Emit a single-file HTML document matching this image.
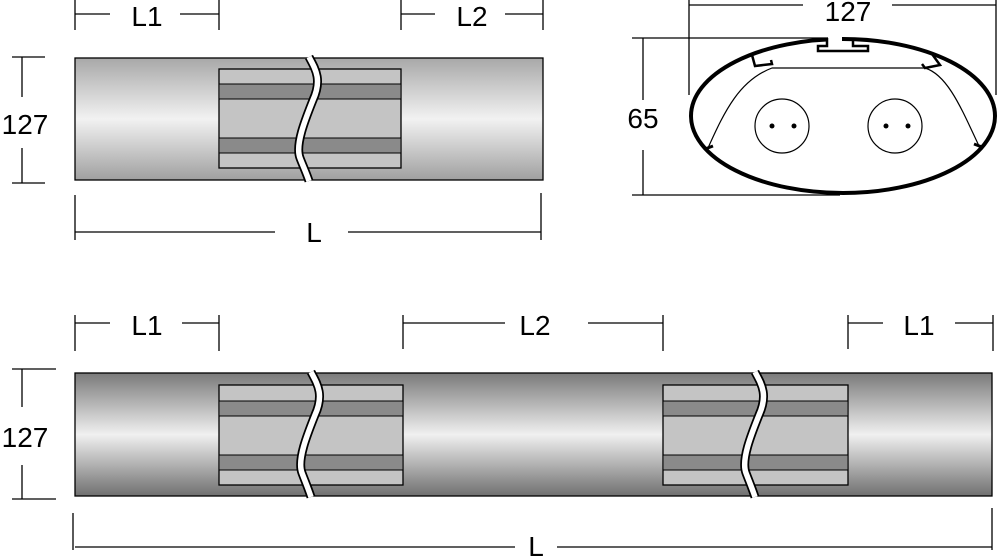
<!DOCTYPE html>
<html><head><style>
html,body{margin:0;padding:0;background:#fff;}
svg{display:block;}
text{font-family:"Liberation Sans",Arial,sans-serif;fill:#000;}
</style></head><body>
<svg width="1000" height="556" viewBox="0 0 1000 556" xmlns="http://www.w3.org/2000/svg">
<defs>
<linearGradient id="g1" x1="0" y1="0" x2="0" y2="1">
<stop offset="0" stop-color="#a8a8a8"/><stop offset="0.5" stop-color="#f2f2f2"/><stop offset="1" stop-color="#a0a0a0"/>
</linearGradient>
<linearGradient id="g2" x1="0" y1="0" x2="0" y2="1">
<stop offset="0" stop-color="#7a7a7a"/><stop offset="0.5" stop-color="#f0f0f0"/><stop offset="1" stop-color="#707070"/>
</linearGradient>
</defs>
<g stroke="#000" stroke-width="1.3" fill="none">
<line x1="75" y1="0" x2="75" y2="30"/><line x1="219" y1="0" x2="219" y2="30"/>
<line x1="75" y1="14" x2="110" y2="14"/><line x1="180" y1="14" x2="219" y2="14"/>
<line x1="401" y1="0" x2="401" y2="30"/><line x1="543" y1="0" x2="543" y2="30"/>
<line x1="401" y1="14" x2="435" y2="14"/><line x1="505" y1="14" x2="543" y2="14"/>
<line x1="12" y1="57" x2="45" y2="57"/><line x1="12" y1="183" x2="45" y2="183"/>
<line x1="22" y1="57" x2="22" y2="97"/><line x1="22" y1="148" x2="22" y2="183"/>
<line x1="75" y1="195" x2="75" y2="240"/><line x1="541" y1="193" x2="541" y2="240"/>
<line x1="75" y1="232" x2="275" y2="232"/><line x1="348" y1="232" x2="541" y2="232"/>
<line x1="75" y1="315" x2="75" y2="351"/><line x1="219" y1="315" x2="219" y2="351"/>
<line x1="75" y1="323" x2="110" y2="323"/><line x1="182" y1="323" x2="219" y2="323"/>
<line x1="403" y1="315" x2="403" y2="349"/><line x1="663" y1="315" x2="663" y2="351"/>
<line x1="403" y1="323" x2="505" y2="323"/><line x1="588" y1="323" x2="663" y2="323"/>
<line x1="848" y1="315" x2="848" y2="349"/><line x1="993" y1="315" x2="993" y2="351"/>
<line x1="848" y1="323" x2="883" y2="323"/><line x1="955" y1="323" x2="993" y2="323"/>
<line x1="12" y1="369" x2="56" y2="369"/><line x1="12" y1="499" x2="56" y2="499"/>
<line x1="22" y1="369" x2="22" y2="407"/><line x1="22" y1="465" x2="22" y2="499"/>
<line x1="73" y1="513" x2="73" y2="550"/><line x1="992" y1="508" x2="992" y2="550"/>
<line x1="75" y1="547" x2="515" y2="547"/><line x1="557" y1="547" x2="992" y2="547"/>
<line x1="689" y1="0" x2="689" y2="95"/><line x1="996" y1="0" x2="996" y2="95"/>
<line x1="689" y1="5" x2="803" y2="5"/><line x1="892" y1="5" x2="996" y2="5"/>
<line x1="632" y1="38" x2="840" y2="38"/><line x1="632" y1="195" x2="840" y2="195"/>
<line x1="643" y1="38" x2="643" y2="100"/><line x1="643" y1="150" x2="643" y2="195"/>
</g>
<g font-size="28">
<text x="147" y="26" text-anchor="middle">L1</text>
<text x="472" y="26" text-anchor="middle">L2</text>
<text x="25" y="134" text-anchor="middle">127</text>
<text x="314" y="242" text-anchor="middle">L</text>
<text x="147" y="335" text-anchor="middle">L1</text>
<text x="535" y="335" text-anchor="middle">L2</text>
<text x="919" y="335" text-anchor="middle">L1</text>
<text x="25" y="447" text-anchor="middle">127</text>
<text x="536" y="556" text-anchor="middle">L</text>
<text x="848" y="21" text-anchor="middle">127</text>
<text x="643" y="128" text-anchor="middle">65</text>
</g>
<rect x="75" y="58" width="468" height="122" fill="url(#g1)" stroke="#000" stroke-width="1.3"/>
<rect x="219" y="69" width="182" height="99" fill="#c4c4c4" stroke="#000" stroke-width="1.3"/>
<rect x="219" y="84" width="182" height="15" fill="#8a8a8a" stroke="#000" stroke-width="1"/>
<rect x="219" y="138" width="182" height="15" fill="#8a8a8a" stroke="#000" stroke-width="1"/>
<path d="M309,57 C316,70 322,80 313,100 C305,120 295,145 300,158 C303,166 306,172 309,181" stroke="#000" stroke-width="9" fill="none"/>
<path d="M309,57 C316,70 322,80 313,100 C305,120 295,145 300,158 C303,166 306,172 309,181" stroke="#fff" stroke-width="5.5" fill="none"/>
<rect x="75" y="373" width="917" height="123" fill="url(#g2)" stroke="#000" stroke-width="1.3"/>
<rect x="219" y="385" width="184" height="100" fill="#c4c4c4" stroke="#000" stroke-width="1.3"/>
<rect x="219" y="401" width="184" height="15" fill="#8a8a8a" stroke="#000" stroke-width="1"/>
<rect x="219" y="455" width="184" height="15" fill="#8a8a8a" stroke="#000" stroke-width="1"/>
<rect x="663" y="385" width="185" height="100" fill="#c4c4c4" stroke="#000" stroke-width="1.3"/>
<rect x="663" y="401" width="185" height="15" fill="#8a8a8a" stroke="#000" stroke-width="1"/>
<rect x="663" y="455" width="185" height="15" fill="#8a8a8a" stroke="#000" stroke-width="1"/>
<path d="M311,372 C318,385 324,395 315,415 C307,435 297,460 302,473 C305,481 308,488 311,497" stroke="#000" stroke-width="9" fill="none"/>
<path d="M311,372 C318,385 324,395 315,415 C307,435 297,460 302,473 C305,481 308,488 311,497" stroke="#fff" stroke-width="5.5" fill="none"/>
<path d="M755,372 C762,385 768,395 759,415 C751,435 741,460 746,473 C749,481 752,488 755,497" stroke="#000" stroke-width="9" fill="none"/>
<path d="M755,372 C762,385 768,395 759,415 C751,435 741,460 746,473 C749,481 752,488 755,497" stroke="#fff" stroke-width="5.5" fill="none"/>
<ellipse cx="843" cy="116" rx="152" ry="77" fill="#fff" stroke="#000" stroke-width="4"/>
<rect x="828" y="35" width="14" height="8" fill="#fff" stroke="none"/>
<path d="M827,38 L827,46 L818,46 L818,51 L868,51 L868,46 L853,46 L853,38" fill="none" stroke="#000" stroke-width="2.5"/>
<path d="M752,55 L755,66 L772,64 L771,60 M932,54 L940,65 L925,68 L922,64" fill="none" stroke="#000" stroke-width="2.5"/>
<path d="M708,148 C725,110 740,80 772,68 L925,68 C948,75 962,110 979,146" fill="none" stroke="#000" stroke-width="1.2"/>
<path d="M705,149 L713,146 M982,147 L974,144" stroke="#000" stroke-width="3"/>
<circle cx="782" cy="126" r="27" fill="#fff" stroke="#000" stroke-width="1.2"/>
<circle cx="895" cy="126" r="27" fill="#fff" stroke="#000" stroke-width="1.2"/>
<circle cx="772" cy="126" r="2.5" fill="#000"/><circle cx="794" cy="126" r="2.5" fill="#000"/>
<circle cx="886" cy="126" r="2.5" fill="#000"/><circle cx="908" cy="126" r="2.5" fill="#000"/>
</svg>
</body></html>
